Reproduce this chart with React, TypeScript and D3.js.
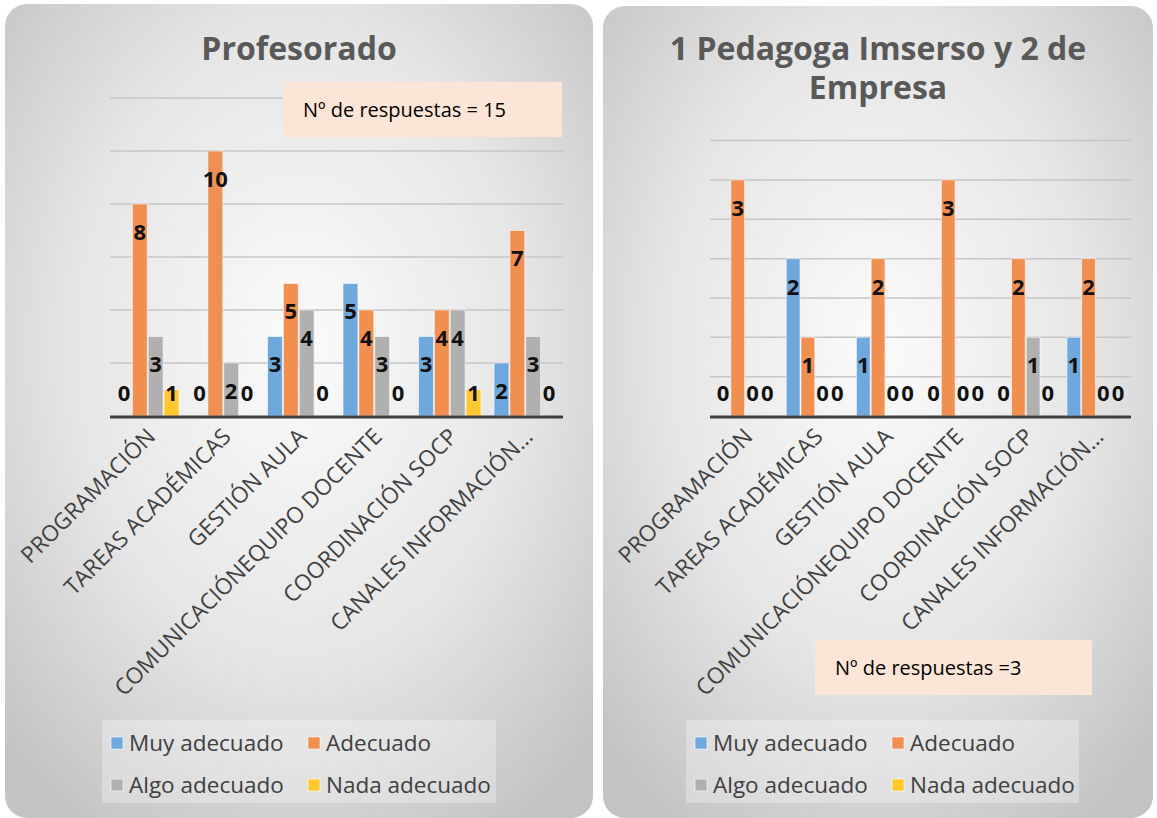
import React from 'react';
import * as d3 from 'd3';

const categories = [
  'PROGRAMACIÓN',
  'TAREAS ACADÉMICAS',
  'GESTIÓN AULA',
  'COMUNICACIÓNEQUIPO DOCENTE',
  'COORDINACIÓN SOCP',
  'CANALES INFORMACIÓN…',
];
const seriesNames = ['Muy adecuado', 'Adecuado', 'Algo adecuado', 'Nada adecuado'];
const seriesColors = ['#6fa8dc', '#f08f4f', '#b0b0b0', '#ffc82b'];

// Profesorado
const profMuy = [0, 0, 3, 5, 3, 2];
const profAdecuado = [8, 10, 5, 4, 4, 7];
const profAlgo = [3, 2, 4, 3, 4, 3];
const profNada = [1, 0, 0, 0, 1, 0];
const profTicks = [0, 2, 4, 6, 8, 10, 12];

// 1 Pedagoga Imserso y 2 de Empresa
const pedMuy = [0, 2, 1, 0, 0, 1];
const pedAdecuado = [3, 1, 2, 3, 2, 2];
const pedAlgo = [0, 0, 0, 0, 1, 0];
const pedNada = [0, 0, 0, 0, 0, 0];
const pedTicks = [0, 0.5, 1, 1.5, 2, 2.5, 3, 3.5];

const FONT = "'Open Sans', 'Noto Sans', sans-serif";

type PanelProps = {
  id: string;
  px: number; py: number; pw: number; ph: number;
  titleLines: string[];
  titleY: number;
  series: number[][];
  ticks: number[];
  plotX0: number; plotX1: number; plotY0: number; plotYTop: number;
  box: { x: number; y: number; w: number; h: number; text: string; tx: number };
  legend: { x: number; y: number; w: number; h: number };
};

function Panel(p: PanelProps) {
  const yMax = p.ticks[p.ticks.length - 1];
  const y = d3.scaleLinear().domain([0, yMax]).range([p.plotY0, p.plotYTop]);
  const x0 = d3.scaleBand<string>().domain(categories).range([p.plotX0, p.plotX1]).paddingInner(0.16).paddingOuter(0.08);
  const x1 = d3.scaleBand<number>().domain([0, 1, 2, 3]).range([0, x0.bandwidth()]);
  const cx = p.px + p.pw / 2;
  const labelFloor = y(0) - 23;
  return (
    <g>
      <defs>
        <radialGradient id={`bg-${p.id}`} cx="50%" cy="42%" r="70%">
          <stop offset="0%" stopColor="#fbfbfb" />
          <stop offset="55%" stopColor="#e6e6e6" />
          <stop offset="100%" stopColor="#c3c3c3" />
        </radialGradient>
      </defs>
      <rect x={p.px} y={p.py} width={p.pw} height={p.ph} rx={22} ry={22} fill={`url(#bg-${p.id})`} />
      {p.titleLines.map((t, i) => (
        <text key={i} x={cx} y={p.titleY + i * 39} textAnchor="middle" fontFamily={FONT} fontWeight="bold" fontSize={32} fill="#595959">{t}</text>
      ))}
      {p.ticks.filter((t) => t > 0).map((t) => (
        <line key={t} x1={p.plotX0} x2={p.plotX1} y1={y(t)} y2={y(t)} stroke="#c6c6c6" strokeWidth={1.5} />
      ))}
      {categories.map((c, ci) => (
        <g key={c} transform={`translate(${x0(c)},0)`}>
          {p.series.map((s, si) => {
            const v = s[ci];
            const bx = x1(si) as number;
            return v > 0 ? (
              <rect key={si} x={bx + 0.5} y={y(v)} width={x1.bandwidth() - 1} height={y(0) - y(v)} fill={seriesColors[si]} stroke="rgba(255,255,255,0.55)" strokeWidth={1} />
            ) : null;
          })}
        </g>
      ))}
      <line x1={p.plotX0} x2={p.plotX1} y1={y(0) + 1} y2={y(0) + 1} stroke="#404040" strokeWidth={3} />
      {categories.map((c, ci) => (
        <g key={c + 'l'} transform={`translate(${x0(c)},0)`}>
          {p.series.map((s, si) => {
            const v = s[ci];
            const bx = (x1(si) as number) + x1.bandwidth() / 2;
            return (
              <text key={si} x={bx} y={Math.min(y(v) + 28, labelFloor)} dy="0.36em" textAnchor="middle" fontFamily={FONT} fontWeight="bold" fontSize={22} fill="#111">{v}</text>
            );
          })}
        </g>
      ))}
      {categories.map((c) => {
        const ax = (x0(c) as number) + x0.bandwidth() / 2 + 9;
        const ay = y(0) + 22;
        return (
          <text key={c + 'c'} transform={`translate(${ax},${ay}) rotate(-45)`} textAnchor="end" fontFamily={FONT} fontSize={22.5} fill="#404040">{c}</text>
        );
      })}
      <rect x={p.box.x} y={p.box.y} width={p.box.w} height={p.box.h} fill="#fbe5d6" />
      <text x={p.box.tx} y={p.box.y + p.box.h / 2} dy="0.36em" fontFamily={FONT} fontSize={20} fill="#000">{p.box.text}</text>
      <rect x={p.legend.x} y={p.legend.y} width={p.legend.w} height={p.legend.h} fill="rgba(255,255,255,0.3)" />
      {seriesNames.map((n, i) => {
        const col = i % 2;
        const row = Math.floor(i / 2);
        const lx = p.legend.x + 9 + col * 197;
        const ly = p.legend.y + 23 + row * 42;
        return (
          <g key={n}>
            <rect x={lx} y={ly - 6} width={12} height={12} fill={seriesColors[i]} stroke="rgba(255,255,255,0.6)" strokeWidth={1} />
            <text x={lx + 18} y={ly} dy="0.36em" fontFamily={FONT} fontSize={22.5} fill="#404040">{n}</text>
          </g>
        );
      })}
    </g>
  );
}

export default function App() {
  return (
    <svg width={1157} height={818} style={{ position: 'absolute', left: 0, top: 0, background: '#fff' }}>
      <Panel
        id="prof"
        px={5} py={4} pw={588} ph={814}
        titleLines={['Profesorado']}
        titleY={60}
        series={[profMuy, profAdecuado, profAlgo, profNada]}
        ticks={profTicks}
        plotX0={110} plotX1={563} plotY0={416} plotYTop={98}
        box={{ x: 283, y: 82, w: 279, h: 55, text: 'Nº de respuestas = 15', tx: 303 }}
        legend={{ x: 102, y: 720, w: 394, h: 83 }}
      />
      <Panel
        id="ped"
        px={603} py={6} pw={550} ph={812}
        titleLines={['1 Pedagoga Imserso y 2 de', 'Empresa']}
        titleY={60}
        series={[pedMuy, pedAdecuado, pedAlgo, pedNada]}
        ticks={pedTicks}
        plotX0={710} plotX1={1131} plotY0={416} plotYTop={140.6}
        box={{ x: 815, y: 640, w: 277, h: 55, text: 'Nº de respuestas =3', tx: 835 }}
        legend={{ x: 686, y: 720, w: 393, h: 83 }}
      />
    </svg>
  );
}
